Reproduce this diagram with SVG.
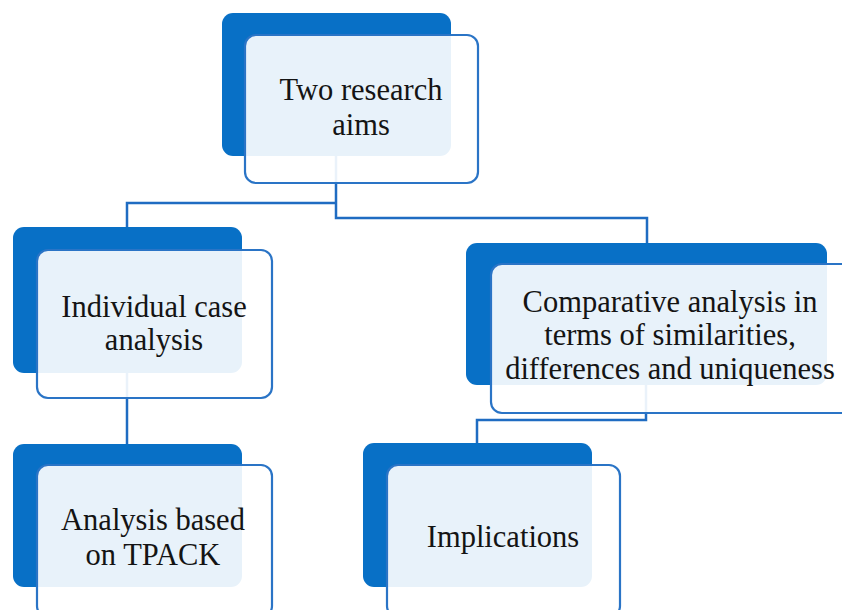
<svg xmlns="http://www.w3.org/2000/svg" width="842" height="610" viewBox="0 0 842 610">
<style>
.dark{fill:#0870c6;}
.front{fill:#ffffff;fill-opacity:0.91;stroke:#2a74c6;stroke-width:2.2;}
.conn{fill:none;stroke:#1f6cc2;stroke-width:2.5;}
.t{font-family:"Liberation Serif","Times New Roman",serif;font-size:30.5px;fill:#141414;text-anchor:middle;}
</style>
<rect width="842" height="610" fill="#ffffff"/>
<g id="connectors">
<path class="conn" d="M336,156 V218 H647 V243"/>
<path class="conn" d="M336,203 H127 V227"/>
<path class="conn" d="M127,373 V444"/>
<path class="conn" d="M646,385 V420 H477 V443"/>
</g>
<g id="node-aims">
<rect class="dark" x="222" y="13" width="229" height="143" rx="11"/>
<rect class="front" x="245" y="35" width="233" height="148" rx="11"/>
<text class="t" x="361" y="100">Two research</text>
<text class="t" x="361" y="135">aims</text>
</g>
<g id="node-individual">
<rect class="dark" x="13" y="227" width="229" height="146" rx="11"/>
<rect class="front" x="37" y="250" width="235" height="148" rx="11"/>
<text class="t" x="154" y="317">Individual case</text>
<text class="t" x="154" y="350">analysis</text>
</g>
<g id="node-comparative">
<rect class="dark" x="466" y="243" width="361" height="142" rx="11"/>
<rect class="front" x="491" y="264" width="365" height="149" rx="11"/>
<text class="t" x="670" y="312">Comparative analysis in</text>
<text class="t" x="670" y="345">terms of similarities,</text>
<text class="t" x="670" y="379">differences and uniqueness</text>
</g>
<g id="node-tpack">
<rect class="dark" x="13" y="444" width="229" height="143" rx="11"/>
<rect class="front" x="37" y="465" width="235" height="152" rx="11"/>
<text class="t" x="153" y="530">Analysis based</text>
<text class="t" x="153" y="565">on TPACK</text>
</g>
<g id="node-implications">
<rect class="dark" x="363" y="443" width="229" height="144" rx="11"/>
<rect class="front" x="387" y="465" width="233" height="152" rx="11"/>
<text class="t" x="503" y="547">Implications</text>
</g>
</svg>
